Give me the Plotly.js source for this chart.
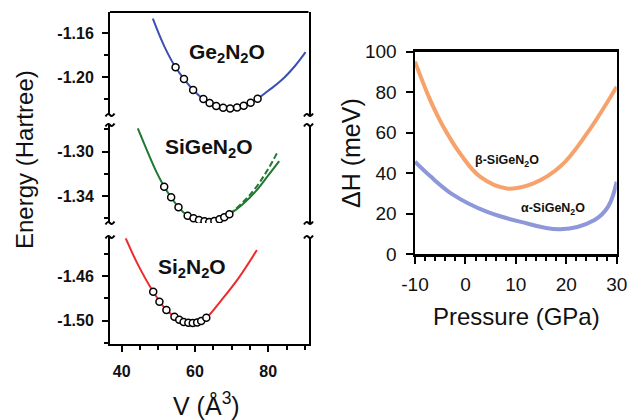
<!DOCTYPE html>
<html>
<head>
<meta charset="utf-8">
<script src="https://cdn.plot.ly/plotly-3.0.1.min.js"></script>
<style>html,body{margin:0;padding:0;background:#fff;}#chart{width:628px;height:420px;}</style>
</head>
<body>
<div id="chart"></div>
<script>
// ---- Left panel: E(V) curves (volume in Å^3, energy in Hartree) ----
const geCurveV = [48.5, 51.7, 54.7, 57.0, 59.5, 62.3, 65.8, 69.6, 73.3, 77.1, 80.0, 83.6, 87.3, 90.2];
const geCurveE = [-1.147, -1.1726, -1.1912, -1.2018, -1.2118, -1.2200, -1.2264, -1.2285, -1.2261, -1.2197, -1.2125, -1.2030, -1.1900, -1.1775];
const geDotsV = [54.7, 57.0, 59.5, 62.3, 64.0, 65.8, 67.7, 69.6, 71.5, 73.3, 75.2, 77.1];
const geDotsE = [-1.1912, -1.2018, -1.2118, -1.2200, -1.2236, -1.2264, -1.2279, -1.2285, -1.2276, -1.2261, -1.2234, -1.2197];

const sigeCurveV = [44.4, 47.3, 49.6, 51.6, 53.5, 55.5, 58.0, 61.1, 63.9, 66.7, 69.4, 72.8, 76.5, 80.1, 83.0];
const sigeCurveE = [-1.2790, -1.3020, -1.3192, -1.3316, -1.3412, -1.3502, -1.3578, -1.3617, -1.3635, -1.3611, -1.3565, -1.3481, -1.3361, -1.3210, -1.3085];
const sigeDashV = [69.4, 72.8, 76.5, 80.1, 82.6];
const sigeDashE = [-1.3565, -1.3466, -1.3330, -1.3150, -1.3000];
const sigeDotsV = [51.6, 53.5, 55.5, 58.0, 59.6, 61.1, 62.6, 63.9, 65.3, 66.7, 68.0, 69.4];
const sigeDotsE = [-1.3316, -1.3412, -1.3502, -1.3578, -1.3601, -1.3617, -1.3628, -1.3635, -1.3626, -1.3611, -1.3593, -1.3565];

const siCurveV = [41.1, 44.5, 48.6, 52.2, 55.7, 58.2, 60.6, 63.1, 67.3, 71.9, 76.9];
const siCurveE = [-1.4263, -1.4502, -1.4740, -1.4904, -1.4991, -1.5018, -1.5015, -1.4973, -1.4812, -1.4618, -1.4367];
const siDotsV = [48.6, 50.3, 52.2, 54.4, 55.7, 56.9, 58.2, 59.4, 60.6, 61.7, 63.1];
const siDotsE = [-1.4740, -1.4830, -1.4904, -1.4964, -1.4991, -1.5012, -1.5018, -1.5021, -1.5015, -1.5003, -1.4973];

// ---- Right panel: enthalpy difference vs pressure ----
const betaP = [-10, -7.0, -4.4, -1.1, 2.9, 8.2, 13.5, 18.8, 24.1, 30];
const betaH = [95.1, 76.2, 63.0, 49.8, 38.2, 32.4, 34.9, 43.2, 59.6, 82.7];
const alphaP = [-10, -7.0, -2.4, 4.2, 10.8, 18.8, 25.6, 28.3, 30];
const alphaH = [45.6, 38.5, 29.2, 20.9, 16.0, 12.2, 16.8, 23.4, 35.7];

// ---- Tick labels ----
const vTicks = [40, 60, 80];
const geTicks = [-1.16, -1.20], geTickText = ['-1.16', '-1.20'];
const sigeTicks = [-1.30, -1.34], sigeTickText = ['-1.30', '-1.34'];
const siTicks = [-1.46, -1.50], siTickText = ['-1.46', '-1.50'];
const pTicks = [-10, 0, 10, 20, 30], pTickText = ['-10', '0', '10', '20', '30'];
const hTicks = [0, 20, 40, 60, 80, 100];

const FONT = 'Liberation Sans, Arial, sans-serif';
const W = 628, H = 420;
const X = v => v / W, Y = v => 1 - v / H;

function curve(x, y, ya, color, dash) {
  return {x: x, y: y, xaxis: 'x', yaxis: ya, type: 'scatter', mode: 'lines',
    line: {color: color, width: 2, shape: 'spline', smoothing: 1.1, dash: dash || 'solid'}, hoverinfo: 'skip', showlegend: false};
}
function dots(x, y, ya) {
  return {x: x, y: y, xaxis: 'x', yaxis: ya, type: 'scatter', mode: 'markers',
    marker: {symbol: 'circle', size: 7, color: '#fff', line: {color: '#000', width: 1.5}}, showlegend: false};
}

const traces = [
  curve(geCurveV, geCurveE, 'y', '#3c4fb4'),
  dots(geDotsV, geDotsE, 'y'),
  curve(sigeCurveV, sigeCurveE, 'y2', '#1d7a2f'),
  curve(sigeDashV, sigeDashE, 'y2', '#1d7a2f', '6px,3px'),
  dots(sigeDotsV, sigeDotsE, 'y2'),
  curve(siCurveV, siCurveE, 'y3', '#ee2a2a'),
  dots(siDotsV, siDotsE, 'y3'),
  {x: betaP, y: betaH, xaxis: 'x4', yaxis: 'y4', type: 'scatter', mode: 'lines',
    line: {color: '#f6a26a', width: 4, shape: 'spline', smoothing: 1.1}, showlegend: false},
  {x: alphaP, y: alphaH, xaxis: 'x4', yaxis: 'y4', type: 'scatter', mode: 'lines',
    line: {color: '#8d97d9', width: 4, shape: 'spline', smoothing: 1.1}, showlegend: false}
];

const leftTickFont = {family: FONT, size: 16, color: '#111', weight: 'bold'};
function segAxis(dom, range, tv, tt, t0) {
  return {domain: dom, range: range, anchor: 'x', showline: true, mirror: true, linecolor: '#000', linewidth: 2,
    ticks: 'outside', ticklen: 6, tickwidth: 2, tickcolor: '#000', tickvals: tv, ticktext: tt,
    tickfont: leftTickFont, showgrid: false, zeroline: false, ticklabelstandoff: 5,
    minor: {ticks: 'outside', tick0: t0, dtick: 0.02, ticklen: 4, tickwidth: 2, tickcolor: '#000', showgrid: false}};
}

const shapes = [];
// top border of left panel
shapes.push({type: 'line', xref: 'paper', yref: 'paper', x0: X(110), x1: X(308.5), y0: Y(12), y1: Y(12), line: {color: '#000', width: 2}});
// axis-break squiggles
function squiggle(cx, cy) {
  return {type: 'path', xref: 'paper', yref: 'paper', line: {color: '#000', width: 2},
    path: `M ${X(cx - 4.5)},${Y(cy + 1.5)} Q ${X(cx - 2.2)},${Y(cy - 2.5)} ${X(cx)},${Y(cy)} Q ${X(cx + 2.2)},${Y(cy + 2.5)} ${X(cx + 4.5)},${Y(cy - 1.5)}`};
}
[115, 125, 223, 237].forEach(cy => { shapes.push(squiggle(110, cy)); shapes.push(squiggle(308.5, cy)); });

const ann = (text, x, y, size, opts) => Object.assign({text: text, xref: 'paper', yref: 'paper', x: X(x), y: Y(y),
  showarrow: false, xanchor: 'center', yanchor: 'middle', font: {family: FONT, size: size, color: '#111'}}, opts || {});
const boldFont = s => ({family: FONT, size: s, color: '#111', weight: 'bold'});

const annotations = [
  ann('Energy (Hartree)', 24, 160, 24, {textangle: -90}),
  ann('V (Å<sup>3</sup>)', 206, 404, 25),
  ann('ΔH (meV)', 351, 153, 25, {textangle: -90}),
  ann('Pressure (GPa)', 516, 316, 24),
  ann('Ge<sub>2</sub>N<sub>2</sub>O', 227, 53, 21, {font: boldFont(21)}),
  ann('SiGeN<sub>2</sub>O', 209, 148, 21, {font: boldFont(21)}),
  ann('Si<sub>2</sub>N<sub>2</sub>O', 192, 268, 21, {font: boldFont(21)}),
  ann('β-SiGeN<sub>2</sub>O', 507, 161, 12.5, {font: boldFont(12.5)}),
  ann('α-SiGeN<sub>2</sub>O', 553, 209, 12.5, {font: boldFont(12.5)})
];

const layout = {
  width: W, height: H, margin: {l: 0, r: 0, t: 0, b: 0}, paper_bgcolor: '#fff', plot_bgcolor: 'rgba(0,0,0,0)',
  font: {family: FONT, color: '#111'}, showlegend: false,
  xaxis: {domain: [X(110), X(308.5)], range: [36.8, 91], anchor: 'y3', showline: true, linecolor: '#000', linewidth: 2,
    ticks: 'outside', ticklen: 6, tickwidth: 2, tickcolor: '#000', tickvals: vTicks, tickfont: leftTickFont,
    showgrid: false, zeroline: false, ticklabelstandoff: 6,
    minor: {ticks: 'outside', tick0: 40, dtick: 5, ticklen: 4, tickwidth: 2, tickcolor: '#000', showgrid: false}},
  yaxis: segAxis([Y(115), Y(12)], [-1.2345, -1.141], geTicks, geTickText, -1.16),
  yaxis2: segAxis([Y(223), Y(125)], [-1.3644, -1.276], sigeTicks, sigeTickText, -1.30),
  yaxis3: segAxis([Y(344), Y(237)], [-1.5208, -1.425], siTicks, siTickText, -1.46),
  xaxis4: {domain: [X(415), X(616.7)], range: [-10, 30], anchor: 'y4', showline: true, mirror: true, linecolor: '#000', linewidth: 2.5,
    ticks: 'outside', ticklen: 7, tickwidth: 2, tickcolor: '#000', tickvals: pTicks, ticktext: pTickText,
    tickfont: {family: FONT, size: 19, color: '#111'}, showgrid: false, zeroline: false, ticklabelstandoff: 5,
    minor: {ticks: 'outside', tick0: -10, dtick: 2, ticklen: 4, tickwidth: 2, tickcolor: '#000', showgrid: false}},
  yaxis4: {domain: [Y(254), Y(51.7)], range: [0, 100], anchor: 'x4', showline: true, mirror: true, linecolor: '#000', linewidth: 2.5,
    ticks: 'outside', ticklen: 7, tickwidth: 2, tickcolor: '#000', tickvals: hTicks,
    tickfont: {family: FONT, size: 19, color: '#111'}, showgrid: false, zeroline: false, ticklabelstandoff: 5},
  shapes: shapes,
  annotations: annotations
};

Plotly.newPlot('chart', traces, layout, {staticPlot: true, displayModeBar: false});
</script>
</body>
</html>
